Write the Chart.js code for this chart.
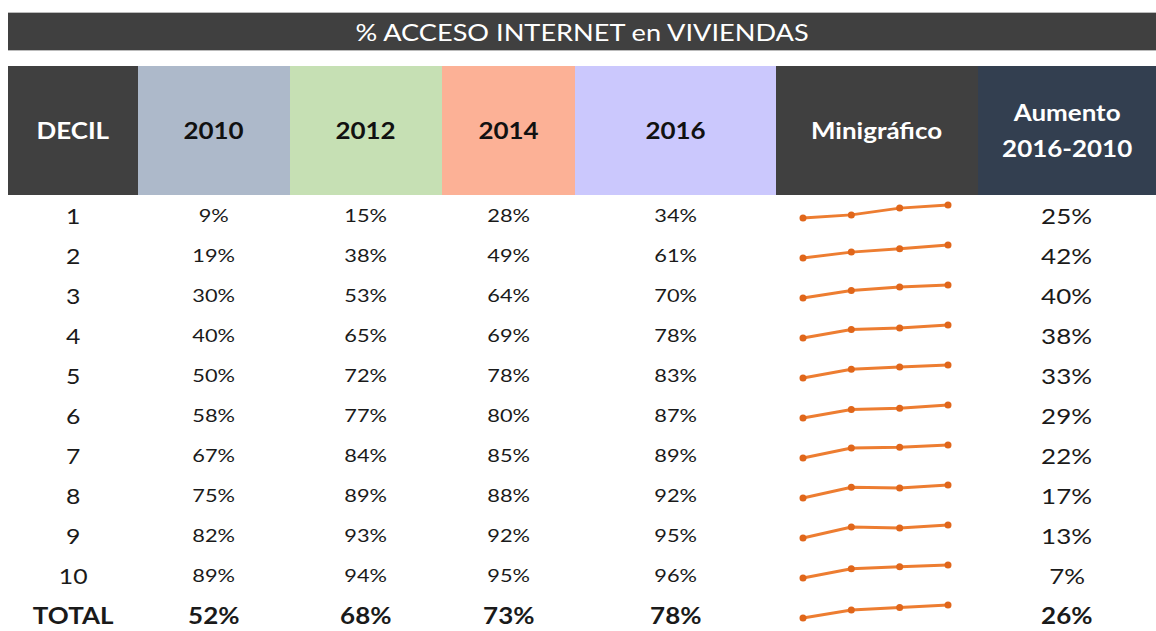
<!DOCTYPE html>
<html>
<head>
<meta charset="utf-8">
<script src="https://cdn.jsdelivr.net/npm/chart.js@4.4.0/dist/chart.umd.min.js"></script>
<style>
  body { margin:0; background:#fff; font-family: Lato, "Open Sans", sans-serif; }
  #title {
    position:absolute; left:8px; top:12px; width:1148px; height:39px;
    background:#404040; color:#fff; font-size:23px; line-height:38px; text-align:center;
    border-top:1px solid #bbb; border-bottom:1px solid #bbb; box-sizing:border-box;
  }
  .sx { display:inline-block; transform:scaleX(1.18); }
  .sv { display:inline-block; transform:scaleX(1.28); }
  table { position:absolute; left:8px; top:66px; border-collapse:collapse; table-layout:fixed; width:1148px; }
  th { height:129px; padding:0; font-weight:bold; font-size:22px; }
  td { height:40px; padding:0; text-align:center; color:#1a1a1a; }
  td.dec { font-size:21px; }
  td.val { font-size:17px; }
  td.aum { font-size:22px; }
  tr.total td { font-weight:bold; font-size:22px; }
  tr.total td.val .sv { transform:scaleX(1.18); }
  td.spark canvas { display:block; }
</style>
</head>
<body>
<div id="title"><span class="sx">% ACCESO INTERNET en VIVIENDAS</span></div>
<table id="tbl">
  <colgroup>
    <col style="width:130px"><col style="width:152px"><col style="width:152px"><col style="width:133px">
    <col style="width:201px"><col style="width:202px"><col style="width:178px">
  </colgroup>
  <thead><tr id="head"></tr></thead>
  <tbody id="body"></tbody>
</table>
<script>
const deciles = ['1','2','3','4','5','6','7','8','9','10','TOTAL'];
const years = ['2010','2012','2014','2016'];
const v2010 = [9,19,30,40,50,58,67,75,82,89,52];
const v2012 = [15,38,53,65,72,77,84,89,93,94,68];
const v2014 = [28,49,64,69,78,80,85,88,92,95,73];
const v2016 = [34,61,70,78,83,87,89,92,95,96,78];
const aumento = [25,42,40,38,33,29,22,17,13,7,26];

const headColors = ['#404040','#ADB9CA','#C6E0B4','#FCB196','#CBC8FD','#404040','#333F50'];
const headText = ['#fff','#111','#111','#111','#111','#fff','#fff'];
const headLabels = ['DECIL'].concat(years, ['Minigráfico','Aumento<br>2016-2010']);

var head = document.getElementById('head');
headLabels.forEach(function(lab,i){
  var th = document.createElement('th');
  th.innerHTML = '<span class="sx">'+lab+'</span>';
  th.style.background = headColors[i];
  th.style.color = headText[i];
  if(i==6){ th.style.lineHeight = '36px'; }
  head.appendChild(th);
});

var series = [v2010,v2012,v2014,v2016];
var body = document.getElementById('body');
deciles.forEach(function(d,r){
  var tr = document.createElement('tr');
  if(d=='TOTAL') tr.className = 'total';
  var html = '<td class="dec"><span class="sx">'+d+'</span></td>';
  series.forEach(function(s){ html += '<td class="val"><span class="sv">'+s[r]+'%</span></td>'; });
  html += '<td class="spark"><canvas id="sp'+r+'" width="202" height="40"></canvas></td>';
  html += '<td class="aum"><span class="sx">'+aumento[r]+'%</span></td>';
  tr.innerHTML = html;
  body.appendChild(tr);
});

function drawSpark(r){
  var rowData = series.map(function(s){ return s[r]; });
  new Chart(document.getElementById('sp'+r), {
    type:'line',
    data:{
      labels: years,
      datasets:[{
        data: rowData,
        borderColor:'#ED7D31',
        backgroundColor:'#E0661A',
        borderWidth:3,
        pointRadius:3.5,
        pointBorderWidth:0,
        tension:0,
        clip:false
      }]
    },
    options:{
      responsive:false,
      animation:false,
      layout:{ padding:{ left:27, right:30, top:10, bottom:17 } },
      plugins:{ legend:{display:false}, tooltip:{enabled:false} },
      scales:{
        x:{ display:false },
        y:{ display:false, min:Math.min.apply(null,rowData), max:Math.max.apply(null,rowData) }
      }
    }
  });
}
deciles.forEach(function(d,r){ drawSpark(r); });
</script>
</body>
</html>
